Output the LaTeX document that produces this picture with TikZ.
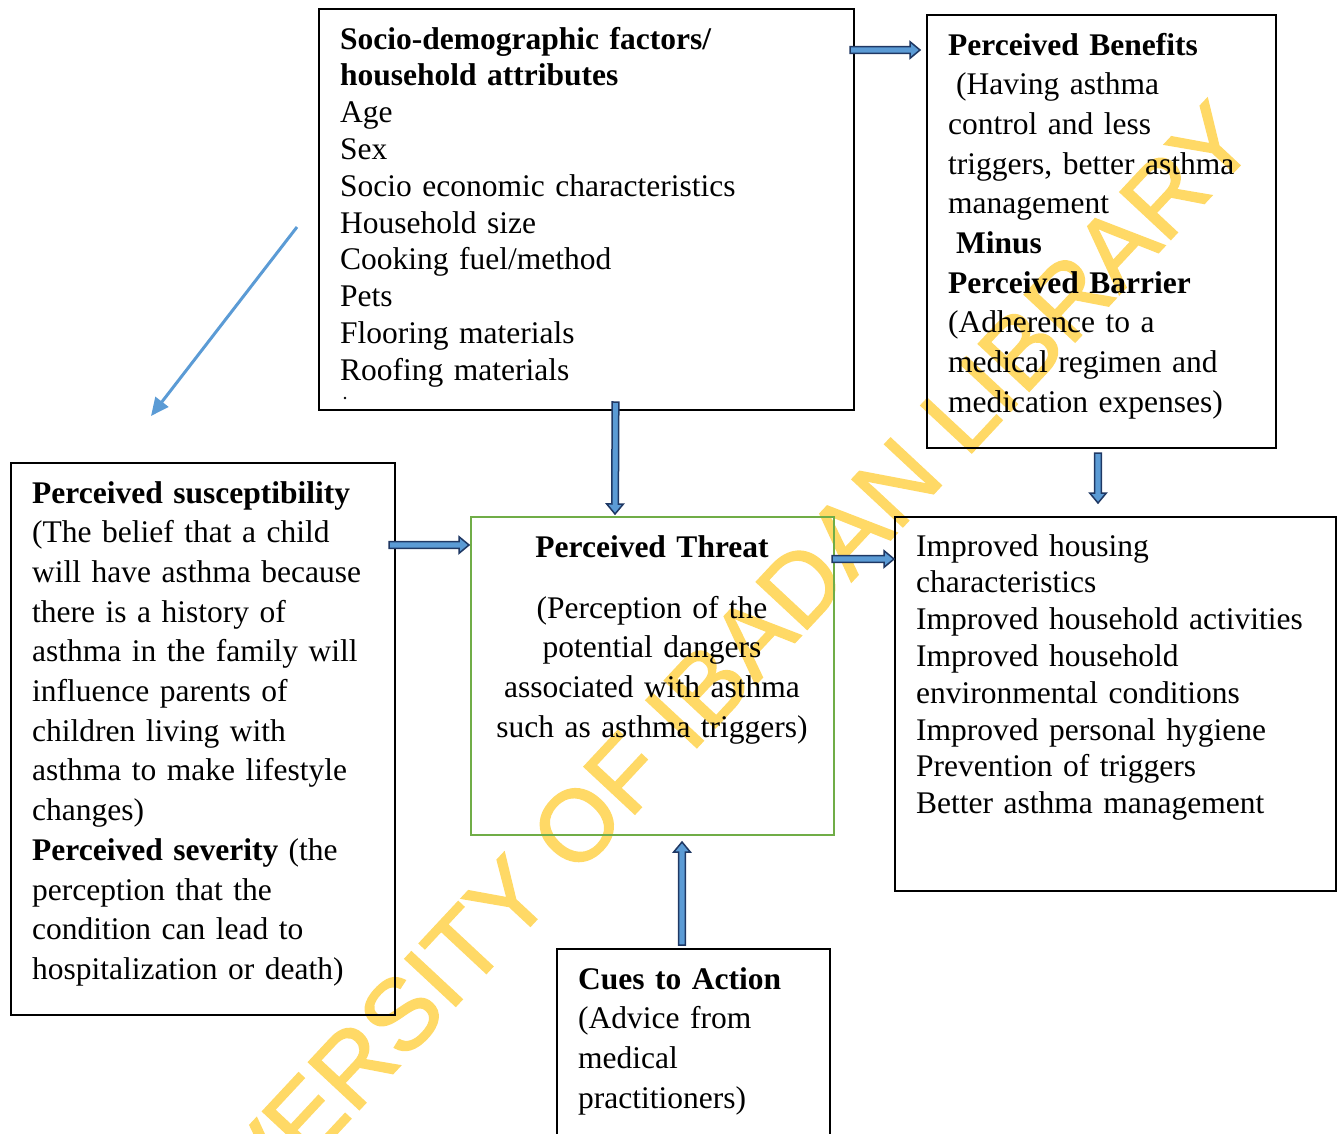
\documentclass[tikz,border=0pt]{standalone}
\usepackage{fontspec}
\setmainfont{Liberation Serif}
\newfontfamily\stampfont[FakeBold=1.5]{Liberation Sans}
\usepackage{tikz}
\usetikzlibrary{calc,arrows.meta,positioning}
\usepackage{xcolor}
\definecolor{hbmblue}{RGB}{91,155,213}
\definecolor{hbmnavy}{RGB}{31,56,100}
\definecolor{hbmgreen}{RGB}{112,173,71}
\definecolor{hbmyellow}{RGB}{255,217,102}
\tikzstyle{box} = [rectangle, draw=black, line width=2pt, inner sep=0pt, outer sep=0pt, anchor=north west]
\tikzstyle{txt} = [inner sep=0pt, anchor=base west, align=left, text width=520pt, font=\fontsize{31.5}{36.8}\selectfont]
\tikzstyle{txtwide} = [txt, font=\fontsize{31.5}{39.7}\selectfont]
\tikzstyle{thinarrow} = [line width=3pt, color=hbmblue, -{Triangle[length=18pt,width=16pt]}]
\tikzstyle{blockarrow} = [draw=hbmnavy, fill=hbmblue, line width=1.5pt, line join=miter,
  to path={($(\tikztostart)!3.3pt!90:(\tikztotarget)$)
    -- ($(\tikztotarget)!10pt!(\tikztostart)!3.3pt!90:(\tikztotarget)$)
    -- ($(\tikztotarget)!10pt!(\tikztostart)!8.3pt!90:(\tikztotarget)$)
    -- (\tikztotarget)
    -- ($(\tikztotarget)!10pt!(\tikztostart)!8.3pt!-90:(\tikztotarget)$)
    -- ($(\tikztotarget)!10pt!(\tikztostart)!3.3pt!-90:(\tikztotarget)$)
    -- ($(\tikztostart)!3.3pt!-90:(\tikztotarget)$) -- cycle}]

\begin{document}
\begin{tikzpicture}[x=1pt, y=-1pt]
    \clip (0,0) rectangle (1337,1133);

    % Library stamp behind everything
    \node[text=hbmyellow, font=\stampfont\fontsize{101}{101}\selectfont, rotate=47] (stamp) at (676,719) {UNIVERSITY OF IBADAN LIBRARY};

    % Socio-demographic factors
    \node[box, minimum width=535pt, minimum height=401pt] (socio) at (319,9) {};
    \node[txt] (sociotext) at (340,49) {\textbf{Socio-demographic factors/}\\ \textbf{household attributes}\\ Age\\ Sex\\ Socio economic characteristics\\ Household size\\ Cooking fuel/method\\ Pets\\ Flooring materials\\ Roofing materials};
    \fill (345,398) circle (1.3);

    % Benefits minus barriers
    \node[box, minimum width=349pt, minimum height=433pt] (benefits) at (927,15) {};
    \node[txtwide] (benefitstext) at (948,55) {\textbf{Perceived Benefits}\\ \hspace*{8pt}(Having asthma\\ control and less\\ triggers, better asthma\\ management\\ \hspace*{8pt}\textbf{Minus}\\ \textbf{Perceived Barrier}\\ (Adherence to a\\ medical regimen and\\ medication expenses)};

    % Susceptibility and severity
    \node[box, minimum width=384pt, minimum height=552pt] (suscept) at (11,463) {};
    \node[txtwide] (suscepttext) at (32,503) {\textbf{Perceived susceptibility}\\ (The belief that a child\\ will have asthma because\\ there is a history of\\ asthma in the family will\\ influence parents of\\ children living with\\ asthma to make lifestyle\\ changes)\\ \textbf{Perceived severity} (the\\ perception that the\\ condition can lead to\\ hospitalization or death)};

    % Perceived threat
    \node[box, draw=hbmgreen, minimum width=363pt, minimum height=318pt] (threat) at (471,517) {};
    \node[txtwide, anchor=base, align=center, text width=360pt] (threattitle) at (652,557) {\textbf{Perceived Threat}};
    \node[txtwide, anchor=base, align=center, text width=360pt] (threattext) at (652,618) {(Perception of the\\ potential dangers\\ associated with asthma\\ such as asthma triggers)};

    % Expected outcomes
    \node[box, minimum width=441pt, minimum height=374pt] (outcome) at (895,517) {};
    \node[txt] (outcometext) at (916,556) {Improved housing\\ characteristics\\ Improved household activities\\ Improved household\\ environmental conditions\\ Improved personal hygiene\\ Prevention of triggers\\ Better asthma management};

    % Cues to action
    \node[box, minimum width=273pt, minimum height=200pt] (cues) at (557,949) {};
    \node[txtwide] (cuestext) at (578,989) {\textbf{Cues to Action}\\ (Advice from\\ medical\\ practitioners)};

    % Arrow ends
    \coordinate (sb1) at ([shift={(-4,41)}]socio.north east);
    \coordinate (sb2) at ([shift={(-7,35)}]benefits.north west);
    \coordinate (st1) at ([shift={(29,-8)}]socio.south);
    \coordinate (st2) at ([shift={(144,-3)}]threat.north west);
    \coordinate (pt1) at ([shift={(-6,82)}]suscept.north east);
    \coordinate (pt2) at ([shift={(-2,28)}]threat.north west);
    \coordinate (to1) at ([shift={(-2,42)}]threat.north east);
    \coordinate (to2) at ([shift={(-1,42)}]outcome.north west);
    \coordinate (ct1) at ([shift={(125,-4)}]cues.north west);
    \coordinate (ct2) at ([shift={(211,7)}]threat.south west);
    \coordinate (bo1) at ([shift={(171,5)}]benefits.south west);
    \coordinate (bo2) at ([shift={(203,-14)}]outcome.north west);
    \coordinate (sp1) at ([shift={(-22,218)}]socio.north west);
    \coordinate (sp2) at ([shift={(140,-47)}]suscept.north west);

    % Arrows
    \draw[blockarrow] (sb1) to (sb2);
    \draw[blockarrow] (st1) to (st2);
    \draw[blockarrow] (pt1) to (pt2);
    \draw[blockarrow] (to1) to (to2);
    \draw[blockarrow] (ct1) to (ct2);
    \draw[blockarrow] (bo1) to (bo2);
    \draw[thinarrow] (sp1) -- (sp2);
\end{tikzpicture}
\end{document}
